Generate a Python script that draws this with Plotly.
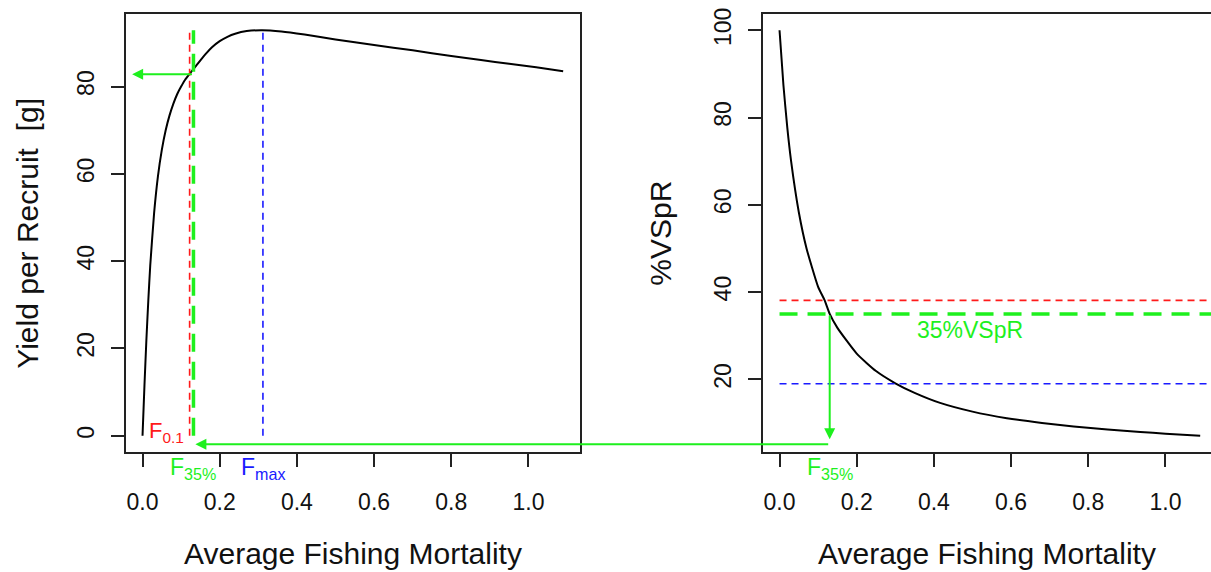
import plotly.graph_objects as go

# ---------------- data ----------------
F_ypr = [0, 0.005, 0.01, 0.015, 0.02, 0.03, 0.04, 0.05, 0.06, 0.07, 0.08, 0.09, 0.10, 0.11,
         0.122, 0.132, 0.15, 0.165, 0.18, 0.20, 0.22, 0.24, 0.27, 0.31, 0.36, 0.42, 0.50,
         0.60, 0.70, 0.80, 0.877, 0.95, 1.02, 1.09]
ypr = [0, 11.5, 22, 31, 39, 51, 59.5, 65.5, 70, 73.4, 76.1, 78.3, 80.0, 81.5,
       82.9, 84.0, 86.0, 87.6, 89.0, 90.4, 91.4, 92.1, 92.7, 92.9, 92.6, 91.9, 90.8,
       89.5, 88.3, 87.0, 86.1, 85.2, 84.4, 83.5]

F_spr = [0, 0.01, 0.02, 0.03, 0.05, 0.07, 0.10, 0.117, 0.13, 0.15, 0.20, 0.25, 0.30,
         0.35, 0.416, 0.50, 0.589, 0.68, 0.762, 0.85, 0.935, 1.0, 1.09]
spr = [100, 87.5, 77.8, 70.0, 58.3, 50.0, 41.2, 38.1, 35.0, 31.8, 25.9, 21.9, 19.1,
       16.9, 14.6, 12.6, 11.1, 10.0, 9.2, 8.5, 7.95, 7.55, 7.06]

F01 = 0.122          # F0.1
F35_left = 0.132     # F35% (left panel)
F35_right = 0.13     # F35% (right panel)
Fmax = 0.312
YPR_max = 92.9
YPR_F35 = 82.8
SPR_F01 = 38.1
SPR_35 = 35.0
SPR_Fmax = 19.0
SPR_arrow_tip = 6.3
SPR_cross = 5.1
YPR_arrow_tip_F = -0.027

x_ticks = [0.0, 0.2, 0.4, 0.6, 0.8, 1.0]
ypr_ticks = [0, 20, 40, 60, 80]
spr_ticks = [20, 40, 60, 80, 100]

x_title = "Average Fishing Mortality"
ypr_title = "Yield per Recruit  [g]"
spr_title = "%VSpR"
label_35 = "35%VSpR"

# ---------------- styling / layout ----------------
W, H = 1211, 572
L_dom = [125.7 / W, 580.0 / W]
R_dom = [762.7 / W, 1.0]
LX = [-0.0436, 1.1336]
RX = [-0.0436, 1.118]
LY = [-3.716, 96.62]
RY = [3.35, 103.72]

RED = "#ff1a1a"
BLUE = "#1a1aff"
GREEN = "#1ef01e"
AX = "#222222"
FONT = "Liberation Sans, Arial, sans-serif"


def frac(v, rng):
    return (v - rng[0]) / (rng[1] - rng[0])


def to_paper_x(v, dom, rng):
    return dom[0] + frac(v, rng) * (dom[1] - dom[0])


def paper_to_data_x(p, dom, rng):
    return rng[0] + (p - dom[0]) / (dom[1] - dom[0]) * (rng[1] - rng[0])


fig = go.Figure()

# left panel
fig.add_trace(go.Scatter(x=F_ypr, y=ypr, mode="lines", xaxis="x", yaxis="y",
                         line=dict(color="black", width=2, shape="spline", smoothing=0.5)))
fig.add_trace(go.Scatter(x=[F01, F01], y=[0, YPR_max], mode="lines", xaxis="x", yaxis="y",
                         line=dict(color=RED, width=1.6, dash="7px,5px")))
fig.add_trace(go.Scatter(x=[F35_left, F35_left], y=[0, YPR_max], mode="lines", xaxis="x", yaxis="y",
                         line=dict(color=GREEN, width=3.5, dash="18px,10px")))
fig.add_trace(go.Scatter(x=[Fmax, Fmax], y=[0, YPR_max], mode="lines", xaxis="x", yaxis="y",
                         line=dict(color=BLUE, width=1.6, dash="7px,5px")))

# right panel
fig.add_trace(go.Scatter(x=F_spr, y=spr, mode="lines", xaxis="x2", yaxis="y2",
                         line=dict(color="black", width=2, shape="spline", smoothing=0.5)))
fig.add_trace(go.Scatter(x=[0, RX[1] + 0.1], y=[SPR_F01, SPR_F01], mode="lines", xaxis="x2", yaxis="y2",
                         line=dict(color=RED, width=1.6, dash="7px,5px")))
fig.add_trace(go.Scatter(x=[0, RX[1] + 0.1], y=[SPR_35, SPR_35], mode="lines", xaxis="x2", yaxis="y2",
                         line=dict(color=GREEN, width=3.5, dash="18px,10px")))
fig.add_trace(go.Scatter(x=[0, RX[1] + 0.1], y=[SPR_Fmax, SPR_Fmax], mode="lines", xaxis="x2", yaxis="y2",
                         line=dict(color=BLUE, width=1.6, dash="7px,5px")))

axis_common = dict(showline=True, linecolor=AX, linewidth=2, ticks="outside", ticklen=13,
                   tickwidth=2, tickcolor=AX, showgrid=False, zeroline=False,
                   tickfont=dict(family=FONT, size=23, color="#111"))

fig.update_layout(
    width=W, height=H, margin=dict(l=0, r=0, t=14, b=120),
    paper_bgcolor="white", plot_bgcolor="white", showlegend=False,
    xaxis=dict(domain=L_dom, range=LX, tickvals=x_ticks, tickformat=".1f", mirror=True,
               anchor="y", ticklabelstandoff=15, **axis_common),
    yaxis=dict(domain=[0, 1], range=LY, tickvals=ypr_ticks, tickangle=-90, mirror=True,
               anchor="x", ticklabelstandoff=8, **axis_common),
    xaxis2=dict(domain=R_dom, range=RX, tickvals=x_ticks, tickformat=".1f", mirror=True,
                anchor="y2", ticklabelstandoff=15, **axis_common),
    yaxis2=dict(domain=[0, 1], range=RY, tickvals=spr_ticks, tickangle=-90, mirror=False,
                anchor="x2", ticklabelstandoff=8, **axis_common),
)

ann = []
arrow = dict(showarrow=True, arrowhead=2, arrowsize=1.1, arrowwidth=2, arrowcolor=GREEN,
             standoff=0, startstandoff=0, text="")
# left horizontal arrow
ann.append(dict(x=YPR_arrow_tip_F, y=YPR_F35, ax=F35_left, ay=YPR_F35,
                xref="x", yref="y", axref="x", ayref="y", **arrow))
# right vertical arrow
ann.append(dict(x=F35_right, y=SPR_arrow_tip, ax=F35_right, ay=SPR_35,
                xref="x2", yref="y2", axref="x2", ayref="y2", **arrow))
# cross-panel arrow
p_y = frac(SPR_cross, RY)
y_left = LY[0] + p_y * (LY[1] - LY[0])
p_x_tail = to_paper_x(F35_right, R_dom, RX)
x_tail_left = paper_to_data_x(p_x_tail, L_dom, LX)
ann.append(dict(x=F35_left + 0.005, y=y_left, ax=x_tail_left, ay=y_left,
                xref="x", yref="y", axref="x", ayref="y", **arrow))

lab_font = lambda c, s: dict(family=FONT, size=s, color=c)
ann.append(dict(x=F01, y=0, xref="x", yref="y", xanchor="right", yanchor="middle",
                xshift=-4, yshift=4, showarrow=False, text="F<sub>0.1</sub>", font=lab_font(RED, 22)))
ann.append(dict(x=F35_left, y=0, xref="x", yref="paper", xanchor="center", yanchor="top",
                yshift=0, showarrow=False, text="F<sub>35%</sub>", font=lab_font(GREEN, 23)))
ann.append(dict(x=Fmax, y=0, xref="x", yref="paper", xanchor="center", yanchor="top",
                yshift=0, showarrow=False, text="F<sub>max</sub>", font=lab_font(BLUE, 23)))
ann.append(dict(x=F35_right, y=0, xref="x2", yref="paper", xanchor="center", yanchor="top",
                yshift=0, showarrow=False, text="F<sub>35%</sub>", font=lab_font(GREEN, 23)))
ann.append(dict(x=0.494, y=31.2, xref="x2", yref="y2", xanchor="center", yanchor="middle",
                showarrow=False, text=label_35, font=lab_font(GREEN, 23)))

# axis titles
title_font = dict(family=FONT, size=30, color="#111")
ann.append(dict(x=0.5, y=0, xref="x domain", yref="paper", yanchor="middle", yshift=-101,
                showarrow=False, text=x_title, font=title_font))
ann.append(dict(x=0.5, y=0, xref="x2 domain", yref="paper", yanchor="middle", yshift=-101,
                showarrow=False, text=x_title, font=title_font))
ann.append(dict(x=0, y=0.5, xref="x domain", yref="paper", xanchor="center", xshift=-99,
                textangle=-90, showarrow=False, text=ypr_title, font=title_font))
ann.append(dict(x=0, y=0.5, xref="x2 domain", yref="paper", xanchor="center", xshift=-103,
                textangle=-90, showarrow=False, text=spr_title, font=title_font))

fig.update_layout(annotations=ann)
fig.write_html("out.html")
